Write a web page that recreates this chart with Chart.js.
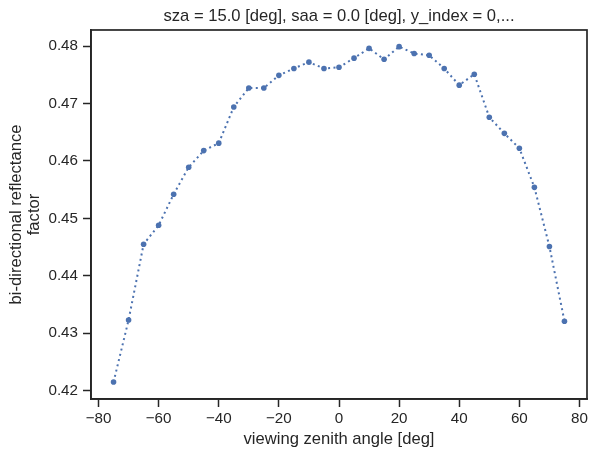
<!DOCTYPE html>
<html>
<head>
<meta charset="utf-8">
<script src="https://cdn.jsdelivr.net/npm/chart.js@4/dist/chart.umd.min.js"></script>
<style>
html,body{margin:0;padding:0;background:#fff;}
#wrap{width:597px;height:457px;position:relative;}
</style>
</head>
<body>
<div id="wrap"><canvas id="c" width="597" height="457"></canvas></div>
<script>
const titleText = "sza = 15.0 [deg], saa = 0.0 [deg], y_index = 0,...";
const xLabel = "viewing zenith angle [deg]";
const yLabel = ["bi-directional reflectance", "factor"];
const angles = [-75,-70,-65,-60,-55,-50,-45,-40,-35,-30,-25,-20,-15,-10,-5,0,5,10,15,20,25,30,35,40,45,50,55,60,65,70,75];
const brf = [0.4215,0.4323,0.4455,0.4488,0.4542,0.4589,0.4618,0.4631,0.4694,0.4727,0.4727,0.4749,0.4761,0.4772,0.4761,0.4763,0.4779,0.4796,0.4777,0.4799,0.4787,0.4784,0.4761,0.4732,0.4751,0.4676,0.4648,0.4622,0.4554,0.4451,0.4321];
const xTicks = [-80,-60,-40,-20,0,20,40,60,80];
const yTicks = [0.42,0.43,0.44,0.45,0.46,0.47,0.48];

const ink = '#262626';
const blue = '#4c72b0';
const FONT = "'Liberation Sans', Arial, sans-serif";

const boxPlugin = {
  id: 'box',
  afterDraw(chart) {
    const a = chart.chartArea, ctx = chart.ctx;
    ctx.save();
    ctx.strokeStyle = ink;
    ctx.lineWidth = 1.7;
    ctx.strokeRect(a.left, a.top, a.right - a.left, a.bottom - a.top);
    ctx.restore();
  }
};

new Chart(document.getElementById('c'), {
  type: 'scatter',
  data: {
    datasets: [{
      data: angles.map((x, i) => ({x: x, y: brf[i]})),
      showLine: true,
      borderColor: blue,
      borderWidth: 2,
      borderDash: [2, 3.4],
      borderCapStyle: 'butt',
      backgroundColor: blue,
      pointBackgroundColor: blue,
      pointBorderColor: blue,
      pointBorderWidth: 0,
      pointRadius: 2.8,
      tension: 0
    }]
  },
  options: {
    responsive: false,
    animation: false,
    devicePixelRatio: 1,
    layout: {padding: {left: 0, right: 10, top: 0, bottom: 0}},
    plugins: {
      legend: {display: false},
      tooltip: {enabled: false},
      title: {
        display: true,
        fullSize: false,
        text: titleText,
        color: ink,
        font: {family: FONT, size: 16.6, weight: 'normal', lineHeight: 1.15},
        padding: {top: 7.2, bottom: 3.7}
      }
    },
    scales: {
      x: {
        type: 'linear',
        min: -82.5,
        max: 82.5,
        afterBuildTicks: (ax) => { ax.ticks = xTicks.map(v => ({value: v})); },
        afterFit: (ax) => { ax.height = 58; },
        grid: {drawOnChartArea: false, drawTicks: true, tickLength: 8, tickWidth: 1.5, tickColor: ink, color: ink},
        border: {display: true, color: ink, width: 1.7},
        ticks: {
          color: ink,
          padding: 2.6,
          maxRotation: 0,
          font: {family: FONT, size: 15.2},
          callback: (v) => String(v).replace('-', '\u2212')
        },
        title: {
          display: true,
          text: xLabel,
          color: ink,
          font: {family: FONT, size: 16.6, lineHeight: 1.15},
          padding: {top: 0, bottom: 8.2}
        }
      },
      y: {
        type: 'linear',
        min: 0.41855,
        max: 0.4828,
        afterBuildTicks: (ax) => { ax.ticks = yTicks.map(v => ({value: v})); },
        afterFit: (ax) => { ax.width = 91; },
        grid: {drawOnChartArea: false, drawTicks: true, tickLength: 8, tickWidth: 1.5, tickColor: ink, color: ink},
        border: {display: true, color: ink, width: 1.7},
        ticks: {
          color: ink,
          padding: 5,
          font: {family: FONT, size: 15.2},
          callback: (v) => Number(v).toFixed(2)
        },
        title: {
          display: true,
          text: yLabel,
          color: ink,
          font: {family: FONT, size: 16.6, lineHeight: 1.06},
          padding: {top: 8, bottom: 0}
        }
      }
    }
  },
  plugins: [boxPlugin]
});
</script>
</body>
</html>
